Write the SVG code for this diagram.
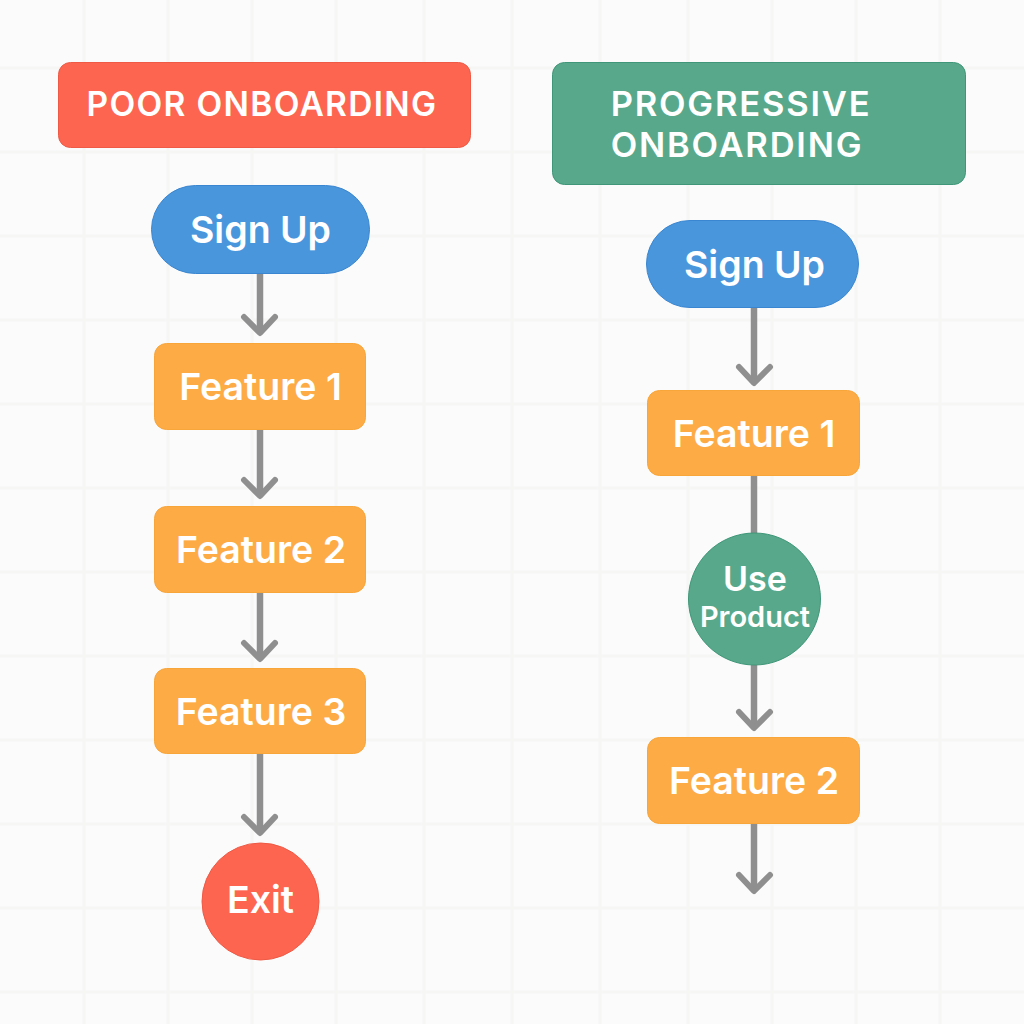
<svg xmlns="http://www.w3.org/2000/svg" width="1024" height="1024" viewBox="0 0 1024 1024">
<style>
.grid{stroke:#f6f6f5;stroke-width:3;fill:none}
.red{fill:#fe6550;stroke:#ee5a45;stroke-width:1}
.green{fill:#58a98b;stroke:#3f9678;stroke-width:1}
.blue{fill:#4a96dd;stroke:#3a86d0;stroke-width:1}
.orange{fill:#fdab45;stroke:#f8a53a;stroke-width:1}
text{font-family:"Inter","Noto Sans",sans-serif;fill:#fff;font-weight:600;text-anchor:middle}
.t{font-size:37.500px}
.h{font-size:34.500px;letter-spacing:1.800px}
.c{stroke:#8f8f8f;stroke-width:6.500;fill:none}
.a{stroke:#8f8f8f;stroke-width:6;fill:none;stroke-linecap:round;stroke-linejoin:round}
</style>
<rect width="1024" height="1024" fill="#fbfbfb"/>
<g id="grid">
<path class="grid" d="M0 68H1024M0 152H1024M0 236H1024M0 320H1024M0 404H1024M0 488H1024M0 572H1024M0 656H1024M0 740H1024M0 824H1024M0 908H1024M0 992H1024M84 0V1024M168 0V1024M252 0V1024M336 0V1024M424 0V1024M512 0V1024M600 0V1024M688 0V1024M772 0V1024M856 0V1024M940 0V1024"/>
</g>
<g id="connectors">
<path class="c" d="M260 274V332"/><path class="a" d="M244 317L260 333L275 317"/>
<path class="c" d="M260 430V495"/><path class="a" d="M244 480L260 496L275 480"/>
<path class="c" d="M260 593V658"/><path class="a" d="M244 643L260 659L275 643"/>
<path class="c" d="M260 754V832"/><path class="a" d="M244 817L260 833L275 817"/>
<path class="c" d="M754 308V382"/><path class="a" d="M739 367L754 383L770 367"/>
<path class="c" d="M754 476V534"/>
<path class="c" d="M754 665V727"/><path class="a" d="M739 712L754 728L770 712"/>
<path class="c" d="M754 824V890"/><path class="a" d="M739 875L754 891L770 875"/>
</g>
<g id="poor-header"><rect class="red" x="58.500" y="62.500" width="412" height="85" rx="12"/><text class="h" x="262" y="116" style="font-size:33.500px;letter-spacing:1.300px">POOR ONBOARDING</text></g>
<g id="progressive-header"><rect class="green" x="552.500" y="62.500" width="413" height="122" rx="12"/><text class="h" x="741" y="116">PROGRESSIVE</text><text class="h" x="737" y="157">ONBOARDING</text></g>
<g id="left-signup"><rect class="blue" x="151.500" y="185.500" width="218" height="88" rx="44"/><text class="t" x="260.500" y="242.500">Sign Up</text></g>
<g id="left-f1"><rect class="orange" x="154.500" y="343.500" width="211" height="86" rx="12"/><text class="t" x="260.500" y="399.500">Feature 1</text></g>
<g id="left-f2"><rect class="orange" x="154.500" y="506.500" width="211" height="86" rx="12"/><text class="t" x="261" y="562.500">Feature 2</text></g>
<g id="left-f3"><rect class="orange" x="154.500" y="668.500" width="211" height="85" rx="12"/><text class="t" x="261" y="724.500">Feature 3</text></g>
<g id="exit"><circle class="red" cx="260.500" cy="901.500" r="58.500"/><text class="t" x="260.500" y="913">Exit</text></g>
<g id="right-signup"><rect class="blue" x="646.500" y="220.500" width="212" height="87" rx="43.500"/><text class="t" x="754.500" y="277.500">Sign Up</text></g>
<g id="right-f1"><rect class="orange" x="647.500" y="390.500" width="212" height="85" rx="12"/><text class="t" x="754" y="446.500">Feature 1</text></g>
<g id="use-product"><circle class="green" cx="754.500" cy="599" r="66"/><text x="755" y="591" font-size="34" font-weight="500">Use</text><text x="755" y="627" font-size="29" font-weight="500">Product</text></g>
<g id="right-f2"><rect class="orange" x="647.500" y="737.500" width="212" height="86" rx="12"/><text class="t" x="754" y="793.500">Feature 2</text></g>
</svg>
